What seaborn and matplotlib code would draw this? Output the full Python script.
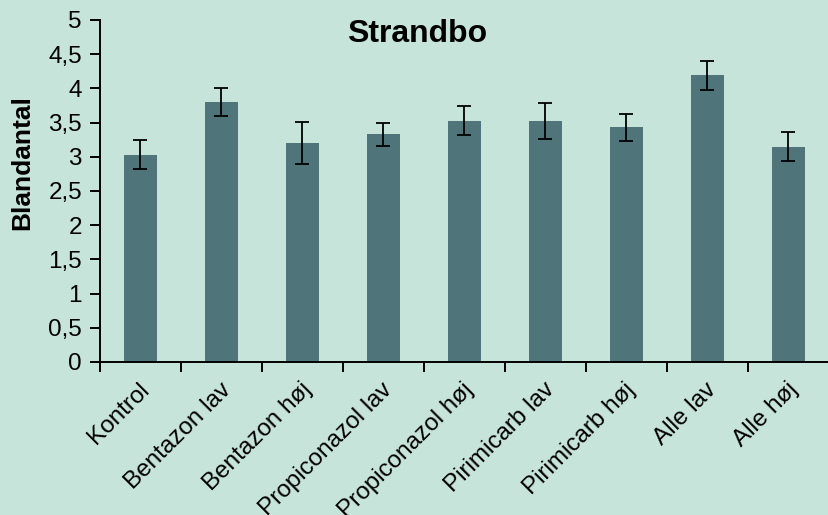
import numpy as np
import matplotlib
matplotlib.use("Agg")
import matplotlib.pyplot as plt
import matplotlib.transforms as mtransforms
from matplotlib.ticker import FuncFormatter, MultipleLocator, FixedLocator
import seaborn as sns

# data
categories = ["Kontrol", "Bentazon lav", "Bentazon høj", "Propiconazol lav",
              "Propiconazol høj", "Pirimicarb lav", "Pirimicarb høj",
              "Alle lav", "Alle høj"]
means = [3.03, 3.80, 3.20, 3.33, 3.53, 3.52, 3.43, 4.19, 3.15]
errors = [0.21, 0.20, 0.31, 0.17, 0.21, 0.26, 0.20, 0.21, 0.21]

bg = "#C7E4DA"
bar_color = "#4F747A"

sns.set_theme(style="white")
plt.rcParams["font.family"] = ["Liberation Sans", "DejaVu Sans"]
plt.rcParams["text.color"] = "black"

fig = plt.figure(figsize=(8.29, 5.15), dpi=100, facecolor=bg)
ax = fig.add_axes([100 / 829, 1 - 362 / 515, 729 / 829, 342 / 515])
ax.set_facecolor(bg)

sns.barplot(x=categories, y=means, color=bar_color, saturation=1,
            width=0.4, linewidth=0, ax=ax)
ax.errorbar(np.arange(len(categories)), means, yerr=errors, fmt="none",
            ecolor="black", elinewidth=1.3, capsize=4.7, capthick=1.3)

ax.set_xlim(-0.5, len(categories) - 0.5)
ax.set_ylim(0, 5)

# y axis
ax.yaxis.set_major_locator(MultipleLocator(0.5))
ax.yaxis.set_major_formatter(FuncFormatter(lambda v, p: f"{v:g}".replace(".", ",")))
ax.tick_params(axis="y", direction="out", length=7, width=1.4, pad=6,
               labelsize=17.5, colors="black", left=True)

# x axis: ticks at category borders, labels at centres
ax.xaxis.set_minor_locator(FixedLocator(np.arange(-0.5, len(categories), 1.0)))
ax.tick_params(axis="x", which="minor", direction="out", length=7, width=1.4,
               bottom=True, colors="black")
ax.tick_params(axis="x", which="major", length=0, pad=12, labelsize=17.5,
               colors="black")
offset = mtransforms.ScaledTranslation(-2 / 100, 0, fig.dpi_scale_trans)
for lab in ax.get_xticklabels():
    lab.set_rotation(45)
    lab.set_ha("right")
    lab.set_va("top")
    lab.set_rotation_mode("anchor")
    lab.set_transform(lab.get_transform() + offset)

for side in ["top", "right"]:
    ax.spines[side].set_visible(False)
for side in ["left", "bottom"]:
    ax.spines[side].set_color("black")
    ax.spines[side].set_linewidth(1.4)

ax.set_xlabel("")
ax.set_ylabel("")
fig.text(417.5 / 829, 1 - 41.7 / 515, "Strandbo", ha="center",
         va="baseline", fontsize=23, fontweight="bold", color="black")
fig.text(22.5 / 829, 1 - 163 / 515, "Blandantal", rotation=90, ha="center",
         va="center", fontsize=19, fontweight="bold", color="black")

fig.savefig("out.png", dpi=100, facecolor=bg)
